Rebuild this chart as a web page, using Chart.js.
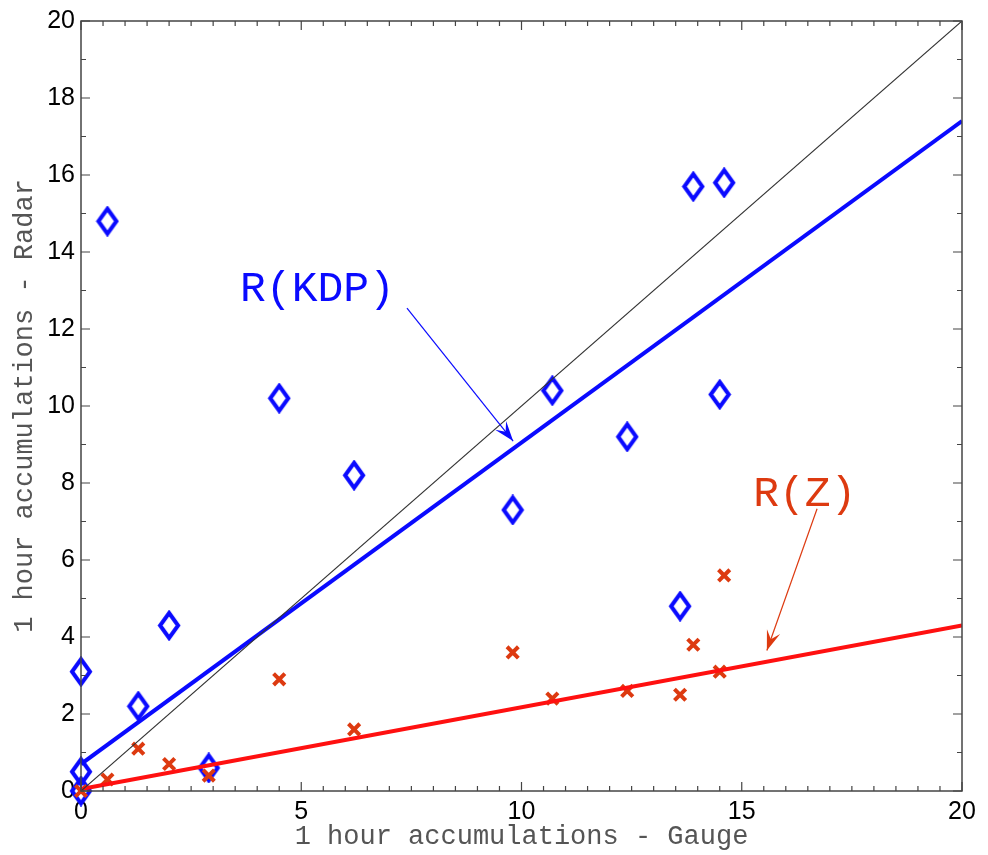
<!DOCTYPE html>
<html>
<head>
<meta charset="utf-8">
<script src="https://cdn.jsdelivr.net/npm/chart.js@4.4.1/dist/chart.umd.min.js"></script>
<style>
  html, body { margin: 0; padding: 0; background: #fff; }
  #wrap { width: 988px; height: 855px; }
</style>
</head>
<body>
<div id="wrap"><canvas id="myChart" width="988" height="855"></canvas></div>
<script>
// gauge accumulations (x), shared by both estimators
const gauge = [0, 0, 0, 0.6, 1.3, 2.0, 2.9, 4.5, 6.2, 9.8, 10.7, 12.4, 13.6, 13.9, 14.5, 14.6];
// radar R(KDP) accumulations
const radarKDP = [0.0, 0.5, 3.1, 14.8, 2.2, 4.3, 0.6, 10.2, 8.2, 7.3, 10.4, 9.2, 4.8, 15.7, 10.3, 15.8];
// radar R(Z) accumulations
const gaugeZ = [0, 0.6, 1.3, 2.0, 2.9, 4.5, 6.2, 9.8, 10.7, 12.4, 13.6, 13.9, 14.5, 14.6];
const radarZ = [0.0, 0.3, 1.1, 0.7, 0.4, 2.9, 1.6, 3.6, 2.4, 2.6, 2.5, 3.8, 3.1, 5.6];

// fitted lines, end points at x = 0 and x = 20
const fitX = [0, 20];
const fitKDP = [0.7, 17.4];
const fitZ = [0.05, 4.3];
const oneToOne = [0, 20];

// annotation labels and arrows (data coordinates)
const kdpLabel = { text: "R(KDP)", x: 3.61, y: 12.72, from: [7.40, 12.54], to: [9.81, 9.09] };
const zLabel = { text: "R(Z)", x: 15.26, y: 7.41, from: [16.71, 7.33], to: [15.57, 3.65] };

const blue = "#0a0aff";
const red = "#ff1010";
const orange = "#dd3a10";

function pts(xs, ys) {
  return xs.map((x, i) => ({ x: x, y: ys[i] }));
}

// tall open diamond marker
const diamond = document.createElement("canvas");
diamond.width = 24;
diamond.height = 31;
(function () {
  const c = diamond.getContext("2d");
  c.strokeStyle = blue;
  c.lineWidth = 4;
  c.lineJoin = "miter";
  c.beginPath();
  c.moveTo(12, 3);
  c.lineTo(21, 15.5);
  c.lineTo(12, 28);
  c.lineTo(3, 15.5);
  c.closePath();
  c.stroke();
})();

const frame = {
  id: "frame",
  afterDatasetsDraw(chart) {
    const ctx = chart.ctx;
    const a = chart.chartArea;
    const xs = chart.scales.x, ys = chart.scales.y;
    ctx.save();
    ctx.strokeStyle = "#444";
    ctx.lineWidth = 1.5;
    ctx.strokeRect(a.left, a.top, a.right - a.left, a.bottom - a.top);
    ctx.lineWidth = 1.2;
    ctx.beginPath();
    for (let v = 0; v <= 20.001; v += 0.5) {
      const px = xs.getPixelForValue(v);
      const len = (Math.abs(v % 5) < 0.01) ? 9 : 5;
      ctx.moveTo(px, a.bottom); ctx.lineTo(px, a.bottom - len);
      ctx.moveTo(px, a.top); ctx.lineTo(px, a.top + len);
    }
    for (let v = 0; v <= 20.001; v += 1) {
      const py = ys.getPixelForValue(v);
      const len = (v % 2 === 0) ? 9 : 5;
      ctx.moveTo(a.left, py); ctx.lineTo(a.left + len, py);
      ctx.moveTo(a.right, py); ctx.lineTo(a.right - len, py);
    }
    ctx.stroke();

    function note(n, color, lw) {
      ctx.fillStyle = color;
      ctx.strokeStyle = color;
      ctx.font = "43px 'Liberation Mono', monospace";
      ctx.textBaseline = "alphabetic";
      ctx.textAlign = "left";
      ctx.fillText(n.text, xs.getPixelForValue(n.x), ys.getPixelForValue(n.y));
      const x1 = xs.getPixelForValue(n.from[0]), y1 = ys.getPixelForValue(n.from[1]);
      const x2 = xs.getPixelForValue(n.to[0]), y2 = ys.getPixelForValue(n.to[1]);
      ctx.lineWidth = lw;
      ctx.beginPath();
      ctx.moveTo(x1, y1);
      ctx.lineTo(x2, y2);
      ctx.stroke();
      const ang = Math.atan2(y2 - y1, x2 - x1);
      const L = 20, W = 7;
      ctx.beginPath();
      ctx.moveTo(x2, y2);
      ctx.lineTo(x2 - L * Math.cos(ang) + W * Math.sin(ang), y2 - L * Math.sin(ang) - W * Math.cos(ang));
      ctx.lineTo(x2 - 0.6 * L * Math.cos(ang), y2 - 0.6 * L * Math.sin(ang));
      ctx.lineTo(x2 - L * Math.cos(ang) - W * Math.sin(ang), y2 - L * Math.sin(ang) + W * Math.cos(ang));
      ctx.closePath();
      ctx.fill();
    }
    note(kdpLabel, blue, 1.2);
    note(zLabel, orange, 1.2);
    ctx.restore();
  }
};

const tickFont = { family: "'Liberation Sans', Arial, sans-serif", size: 25 };
const titleFont = { family: "'Liberation Mono', monospace", size: 27 };

new Chart(document.getElementById("myChart").getContext("2d"), {
  type: "scatter",
  data: {
    datasets: [
      {
        label: "1:1",
        data: pts(oneToOne, oneToOne),
        showLine: true,
        borderColor: "#333",
        borderWidth: 1.1,
        pointRadius: 0,
      },
      {
        label: "fit KDP",
        data: pts(fitX, fitKDP),
        showLine: true,
        borderColor: blue,
        borderWidth: 4,
        pointRadius: 0,
      },
      {
        label: "fit Z",
        data: pts(fitX, fitZ),
        showLine: true,
        borderColor: red,
        borderWidth: 4,
        pointRadius: 0,
      },
      {
        label: "R(Z)",
        data: pts(gaugeZ, radarZ),
        pointStyle: "crossRot",
        pointRadius: 8,
        borderColor: orange,
        borderWidth: 4,
        clip: false,
      },
      {
        label: "R(KDP)",
        data: pts(gauge, radarKDP),
        pointStyle: diamond,
        clip: false,
      },
    ],
  },
  options: {
    responsive: false,
    animation: false,
    layout: { padding: { top: 19, right: 26, bottom: 2, left: 0 } },
    plugins: { legend: { display: false }, tooltip: { enabled: false } },
    scales: {
      x: {
        type: "linear",
        min: 0,
        max: 20,
        ticks: { stepSize: 5, color: "#000", font: tickFont, padding: 6, maxRotation: 0 },
        grid: { display: false, drawTicks: false },
        border: { display: false },
        title: { display: true, text: "1 hour accumulations - Gauge", color: "#555", font: titleFont, padding: 0 },
        afterFit(s) { s.height = 62; },
      },
      y: {
        type: "linear",
        min: 0,
        max: 20,
        ticks: { stepSize: 2, color: "#000", font: tickFont, padding: 6 },
        grid: { display: false, drawTicks: false },
        border: { display: false },
        title: { display: true, text: "1 hour accumulations - Radar", color: "#555", font: titleFont, padding: { top: 9, bottom: 0 } },
        afterFit(s) { s.width = 81; },
      },
    },
  },
  plugins: [frame],
});
</script>
</body>
</html>
